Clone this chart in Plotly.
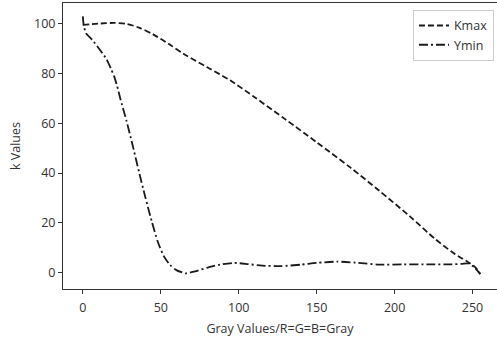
import plotly.graph_objects as go

kmax_x = [0, 10, 20, 28, 36, 45, 55, 65, 80, 94.5, 110, 130, 150, 171.5, 190, 210, 226, 237.7, 243, 248, 252, 255]
kmax_y = [99.6, 100.1, 100.4, 100.0, 98.5, 95.8, 92.0, 87.8, 82.5, 77.3, 70.6, 61.6, 52.4, 42.3, 33.0, 22.5, 13.5, 7.9, 5.8, 3.9, 2.0, -0.6]

ymin_x = [0, 0.5, 2, 6, 11, 15, 18, 20, 22, 24, 28, 32, 36, 40, 44, 48, 52, 56, 60, 66, 72, 80, 88, 97, 106, 115, 127, 140, 150, 163, 175, 190, 205, 223, 235, 243, 247, 251, 255]
ymin_y = [103, 99.6, 96.3, 93.6, 89.5, 86, 82, 79, 75, 70, 61, 51, 40.5, 30.5, 21, 12.5, 6.5, 3.0, 1.0, -0.3, 0.5, 2.0, 3.2, 3.9, 3.4, 2.8, 2.6, 3.2, 3.9, 4.4, 4.0, 3.2, 3.3, 3.3, 3.3, 3.5, 3.7, 2.2, -0.6]

x_ticks = [0, 50, 100, 150, 200, 250]
y_ticks = [0, 20, 40, 60, 80, 100]

font_family = "Open Sans, Noto Sans, DejaVu Sans, sans-serif"
text_color = "#333333"

fig = go.Figure()
fig.add_trace(go.Scatter(
    x=kmax_x, y=kmax_y, mode="lines", name="Kmax",
    line=dict(color="#1a1a1a", width=1.8, dash="6px,3px", shape="spline", smoothing=0.8),
))
fig.add_trace(go.Scatter(
    x=ymin_x, y=ymin_y, mode="lines", name="Ymin",
    line=dict(color="#1a1a1a", width=1.8, dash="9px,3px,2px,3px", shape="spline", smoothing=0.6),
))

fig.update_layout(
    width=497, height=339,
    margin=dict(l=63, r=0, t=3, b=50),
    paper_bgcolor="white", plot_bgcolor="white",
    font=dict(family=font_family, size=12.5, color=text_color),
    showlegend=True,
    legend=dict(
        x=0.993, y=0.976, xanchor="right", yanchor="top",
        bgcolor="rgba(255,255,255,0.8)", bordercolor="#cccccc", borderwidth=1,
        font=dict(size=12.5, color=text_color),
        itemwidth=30, tracegroupgap=0,
    ),
    xaxis=dict(
        range=[-12.75, 265.7], tickvals=x_ticks, ticktext=[str(v) for v in x_ticks],
        showgrid=False, zeroline=False, showline=True, linecolor="#333333", linewidth=1,
        mirror=True, ticks="outside", ticklen=4, tickcolor="#333333",
        ticklabelstandoff=3,
        title=dict(text="Gray Values/R=G=B=Gray", standoff=9, font=dict(size=12.5)),
        tickfont=dict(size=12.5),
    ),
    yaxis=dict(
        range=[-6.6, 108.4], tickvals=y_ticks, ticktext=[str(v) for v in y_ticks],
        showgrid=False, zeroline=False, showline=True, linecolor="#333333", linewidth=1,
        mirror=False, ticks="outside", ticklen=4, tickcolor="#333333",
        title=dict(text="k Values", standoff=10, font=dict(size=12.5)),
        tickfont=dict(size=12.5),
    ),
)

fig.write_html("out.html", config={"displayModeBar": False},
               post_script="document.body.style.margin='0';")
